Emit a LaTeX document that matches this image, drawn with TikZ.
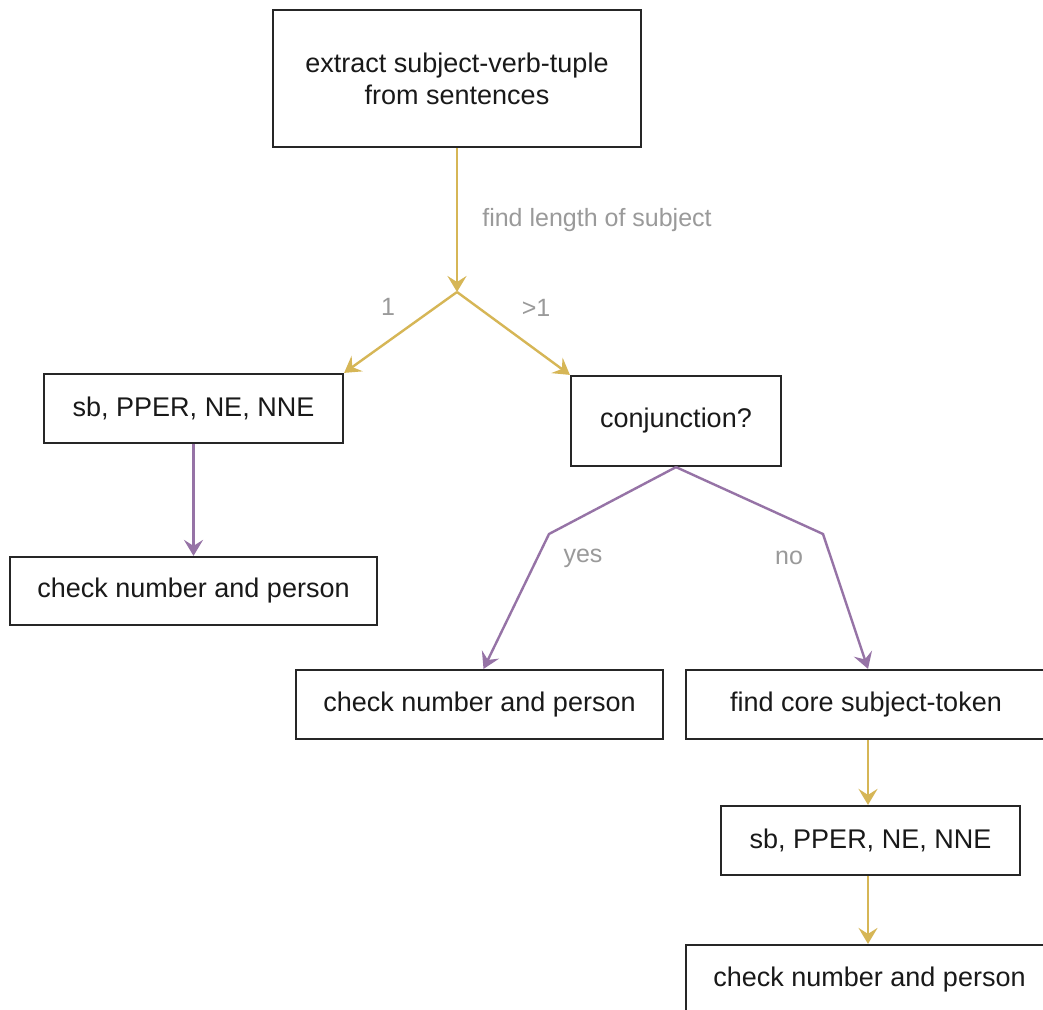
\documentclass[tikz,border=0pt]{standalone}
\usepackage{fontspec}
\setmainfont{Liberation Sans}
\usetikzlibrary{arrows.meta,calc}
\definecolor{goldline}{HTML}{D6B656}
\definecolor{purpleline}{HTML}{9673A6}
\definecolor{labelgray}{HTML}{9A9A9A}
\tikzset{
  box/.style={draw=black!85, line width=2.2pt, fill=white, inner sep=0pt, align=center,
    font=\fontsize{27}{32}\selectfont, text=black!90},
  lbl/.style={text=labelgray, font=\fontsize{25}{30}\selectfont, inner sep=0pt},
  conn/.style={line width=2.4pt, -{Stealth[length=16pt,width=19pt,inset=6pt]}},
  goldc/.style={conn, draw=goldline, color=goldline},
  purc/.style={conn, draw=purpleline, color=purpleline},
}
\begin{document}
\begin{tikzpicture}[x=1pt,y=-1pt]
\useasboundingbox (0,0) rectangle (1043,1009);
\clip (0,0) rectangle (1043,1009);
\fill[white] (0,0) rectangle (1043,1009);

\node[box, minimum width=368pt, minimum height=137pt] (top) at (457,78.5) {extract subject-verb-tuple\\from sentences};
\node[box, minimum width=299pt, minimum height=69pt] (left1) at (193.5,408.5) {sb, PPER, NE, NNE};
\node[box, minimum width=367pt, minimum height=68pt] (left2) at (193.5,591) {check number and person};
\node[box, minimum width=210pt, minimum height=90pt] (conj) at (676,421) {conjunction?};
\node[box, minimum width=367pt, minimum height=69pt] (mid) at (479.5,704.5) {check number and person};
\node[box, minimum width=360pt, minimum height=69pt] (core) at (866,704.5) {find core subject-token};
\node[box, minimum width=299pt, minimum height=69pt] (sb2) at (870.5,840.5) {sb, PPER, NE, NNE};
\node[box, minimum width=367pt, minimum height=69pt] (bottom) at (869.5,979.5) {check number and person};

\coordinate (j) at (457,292);
\coordinate (yb) at (549,534);
\coordinate (nb) at (823,534);

\draw[goldc] (top.south) -- (j);
\draw[goldc] (j) -- (left1.north east);
\draw[goldc] (j) -- (conj.north west);
\draw[purc] (left1.south) -- (left2.north);
\draw[purc] (conj.south) -- (yb) -- ([xshift=4pt]mid.north);
\draw[purc] (conj.south) -- (nb) -- ([xshift=2pt]core.north);
\draw[goldc] ([xshift=2pt]core.south) -- ([xshift=2pt]core.south |- sb2.north);
\draw[goldc] ([xshift=-2.5pt]sb2.south) -- ([xshift=-2.5pt]sb2.south |- bottom.north);

\node[lbl] (l0) at (597,220) {find length of subject};
\node[lbl] (l1) at (388,307) {1};
\node[lbl] (l2) at (536,308) {>1};
\node[lbl] (l3) at (583,558) {yes};
\node[lbl] (l4) at (789,558) {no};
\end{tikzpicture}
\end{document}
